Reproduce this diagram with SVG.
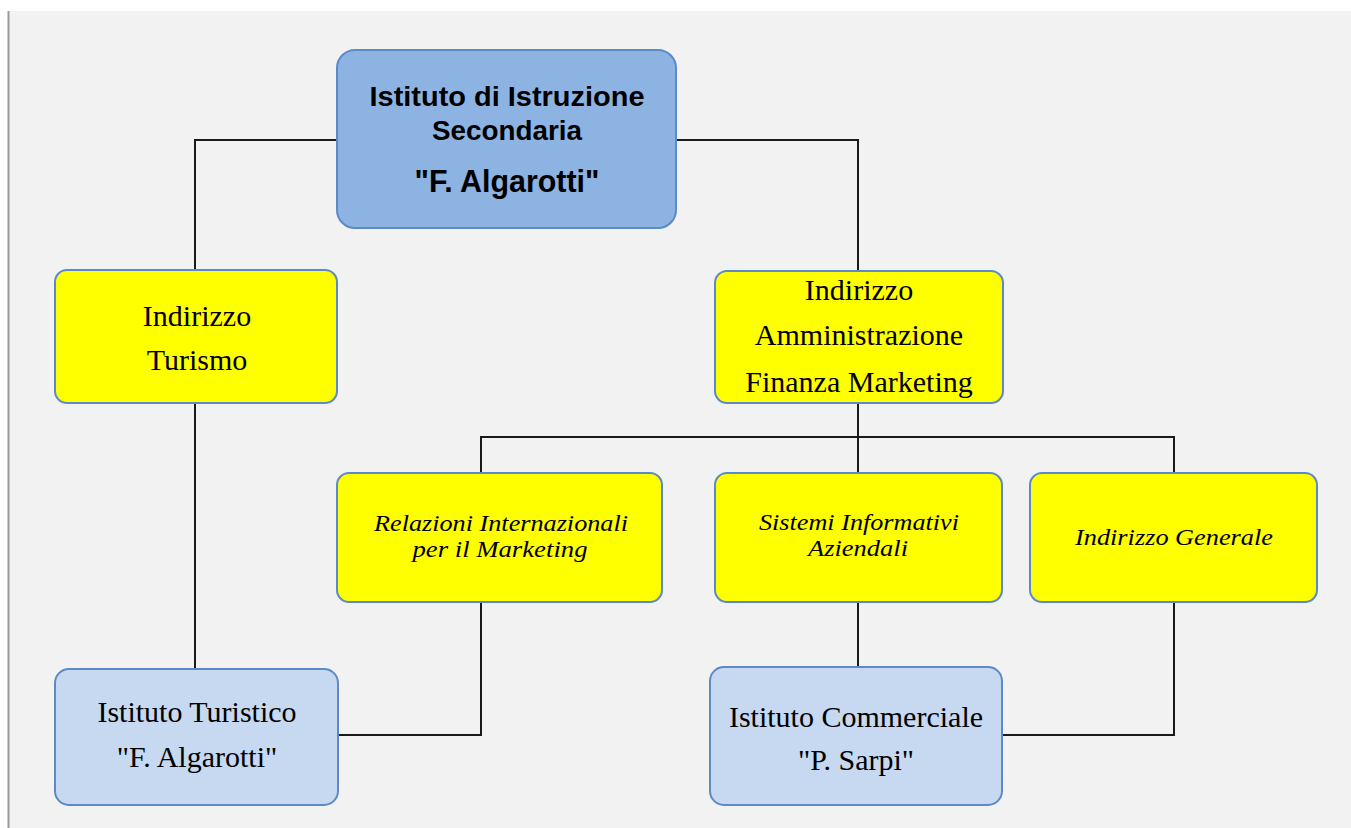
<svg xmlns="http://www.w3.org/2000/svg" width="1351" height="828" viewBox="0 0 1351 828">
<style>
.bg{fill:#f2f2f2}
.node rect{stroke:#5b8ac6;stroke-width:2}
.top rect{fill:#8db3e2}
.yel rect{fill:#ffff00}
.inst rect{fill:#c6d9f1}
.sans{font-family:"Liberation Sans",Arial,sans-serif;font-weight:bold;fill:#000;text-anchor:middle}
.serif{font-family:"Liberation Serif","Times New Roman",serif;font-size:30px;fill:#000;text-anchor:middle}
.ital{font-family:"Liberation Serif","Times New Roman",serif;font-style:italic;font-size:23px;fill:#000;text-anchor:middle}
#connectors path{fill:none;stroke:#1a1a1a;stroke-width:2}
</style>
<rect x="0" y="0" width="1351" height="828" fill="#ffffff"/>
<rect class="bg" x="9" y="11" width="1342" height="817"/>
<line x1="8.5" y1="11" x2="8.5" y2="828" stroke="#9a9a9a" stroke-width="2"/>
<g id="connectors">
<path d="M337 140 H195 V270"/>
<path d="M676 140 H858 V271"/>
<path d="M195 403 V669"/>
<path d="M858 403 V437"/>
<path d="M481 473 V437 H1174 V473"/>
<path d="M858 437 V473"/>
<path d="M481 602 V735 H338"/>
<path d="M858 602 V667"/>
<path d="M1174 602 V735 H1002"/>
</g>
<g id="node-istituto" class="node top">
<rect x="337" y="50" width="339" height="178" rx="18"/>
<text class="sans" x="507" y="106" font-size="27" textLength="275" lengthAdjust="spacingAndGlyphs">Istituto di Istruzione</text>
<text class="sans" x="507" y="140" font-size="27" textLength="150" lengthAdjust="spacingAndGlyphs">Secondaria</text>
<text class="sans" x="507" y="192" font-size="32" textLength="185" lengthAdjust="spacingAndGlyphs">"F. Algarotti"</text>
</g>
<g id="node-turismo" class="node yel">
<rect x="55" y="270" width="282" height="133" rx="12"/>
<text class="serif" x="197" y="326">Indirizzo</text>
<text class="serif" x="197" y="370">Turismo</text>
</g>
<g id="node-afm" class="node yel">
<rect x="715" y="271" width="288" height="132" rx="12"/>
<text class="serif" x="859" y="300">Indirizzo</text>
<text class="serif" x="859" y="345">Amministrazione</text>
<text class="serif" x="859" y="392">Finanza Marketing</text>
</g>
<g id="node-rim" class="node yel">
<rect x="337" y="473" width="325" height="129" rx="12"/>
<text class="ital" x="501" y="531" textLength="254" lengthAdjust="spacingAndGlyphs">Relazioni Internazionali</text>
<text class="ital" x="500" y="557" textLength="175" lengthAdjust="spacingAndGlyphs">per il Marketing</text>
</g>
<g id="node-sia" class="node yel">
<rect x="715" y="473" width="287" height="129" rx="12"/>
<text class="ital" x="859" y="530" textLength="200" lengthAdjust="spacingAndGlyphs">Sistemi Informativi</text>
<text class="ital" x="858" y="556" textLength="100" lengthAdjust="spacingAndGlyphs">Aziendali</text>
</g>
<g id="node-generale" class="node yel">
<rect x="1030" y="473" width="287" height="129" rx="12"/>
<text class="ital" x="1174" y="545" textLength="198" lengthAdjust="spacingAndGlyphs">Indirizzo Generale</text>
</g>
<g id="node-turistico" class="node inst">
<rect x="55" y="669" width="283" height="136" rx="14"/>
<text class="serif" x="197" y="722">Istituto Turistico</text>
<text class="serif" x="197" y="767">"F. Algarotti"</text>
</g>
<g id="node-commerciale" class="node inst">
<rect x="710" y="667" width="292" height="138" rx="14"/>
<text class="serif" x="856" y="727">Istituto Commerciale</text>
<text class="serif" x="856" y="770">"P. Sarpi"</text>
</g>
</svg>
